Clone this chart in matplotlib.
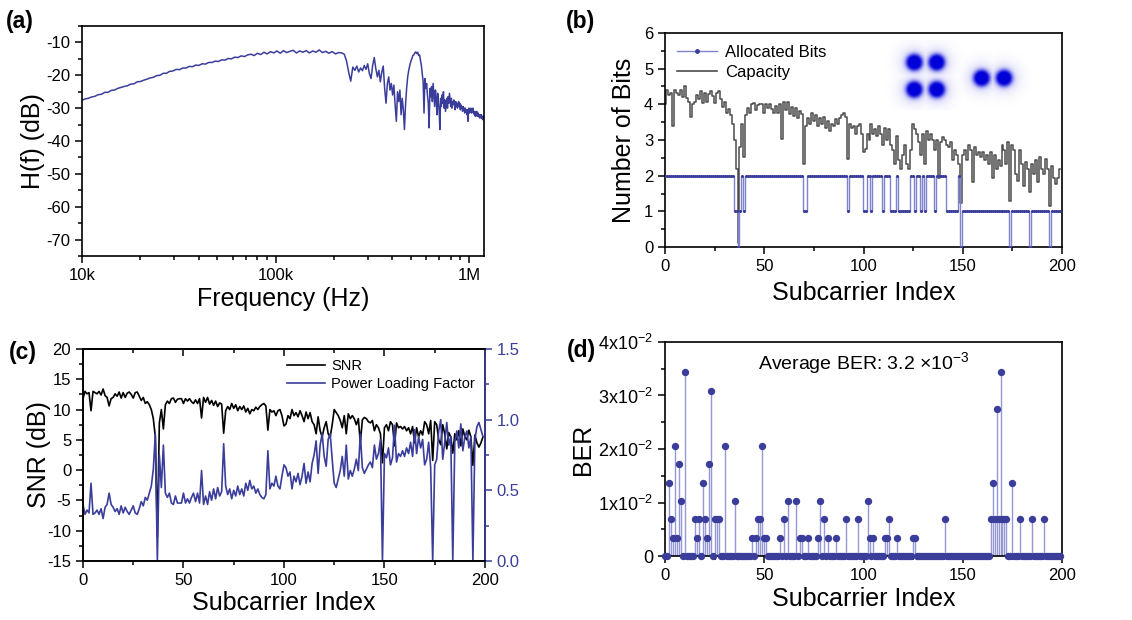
import numpy as np
import matplotlib
matplotlib.use("Agg")
import matplotlib.pyplot as plt
from matplotlib.lines import Line2D
from matplotlib.ticker import (MultipleLocator, FixedLocator, LogLocator,
                               NullFormatter, FormatStrFormatter)

plt.rcParams["font.family"] = ["Liberation Sans", "DejaVu Sans"]
plt.rcParams["mathtext.fontset"] = "custom"
plt.rcParams["mathtext.rm"] = "Liberation Sans"
plt.rcParams["mathtext.it"] = "Liberation Sans:italic"
plt.rcParams["axes.linewidth"] = 1.2
plt.rcParams["axes.unicode_minus"] = False

navy = "#3a3d9a"
light = "#7f83cc"
stem_c = "#9598d6"
gray = "#4c4c4c"

# ---------------- (a) channel response ----------------
freq_low = np.geomspace(1e4, 2.2e5, 80, endpoint=False)
h_low = [-27.6, -27.2, -27.0, -26.6, -26.4, -25.9, -25.8, -25.2, -25.2, -24.6,
         -24.5, -24.0, -23.7, -23.4, -23.2, -22.7, -22.6, -22.0, -21.9, -21.5,
         -21.2, -20.8, -20.6, -20.1, -20.0, -19.4, -19.4, -18.8, -18.7, -18.2,
         -18.3, -17.8, -17.8, -17.3, -17.4, -16.9, -17.0, -16.5, -16.6, -16.1,
         -16.1, -15.7, -15.8, -15.3, -15.4, -14.9, -15.0, -14.5, -14.6, -14.1,
         -14.3, -13.8, -13.6, -14.0, -13.3, -13.7, -13.0, -13.5, -12.8, -13.2,
         -12.6, -13.3, -12.5, -13.1, -12.7, -12.4, -13.2, -12.6, -13.0, -12.5,
         -13.2, -12.6, -13.0, -12.3, -13.1, -12.7, -13.3, -12.8, -13.5, -13.1]
freq_high = np.linspace(2.2e5, 1.19e6, 161)
h_high = [-13.2, -13.6, -15.5, -19.0, -21.8, -17.5, -18.5, -17.2, -19.0, -17.8,
          -18.6, -17.0, -18.2, -16.5, -19.5, -21.0, -17.0, -14.6, -18.0, -20.5,
          -18.5, -22.0, -19.0, -17.2, -24.0, -28.5, -22.5, -20.5, -24.5, -22.5,
          -26.0, -23.0, -29.0, -34.0, -25.0, -28.0, -24.5, -32.0, -27.0, -30.5,
          -36.5, -29.0, -24.0, -20.5, -18.5, -17.0, -15.8, -15.0, -14.0, -13.8,
          -13.2, -12.9, -13.4, -13.0, -14.0, -13.8, -15.5, -17.0, -19.5, -22.0,
          -31.5, -21.0, -24.0, -22.5, -26.0, -28.5, -36.0, -24.0, -26.5, -23.5,
          -28.0, -22.5, -26.0, -29.5, -24.5, -27.0, -32.0, -25.5, -28.0, -31.0,
          -36.5, -27.0, -29.5, -26.0, -28.5, -25.0, -30.0, -27.5, -31.0, -29.0,
          -27.0, -30.0, -26.5, -28.5, -25.5, -27.5, -29.5, -27.0, -30.0, -28.0,
          -29.0, -27.5, -28.5, -30.5, -28.0, -29.5, -28.5, -30.0, -29.0, -28.0,
          -29.5, -28.5, -30.5, -29.0, -30.0, -29.5, -31.0, -29.5, -30.5, -30.0,
          -31.5, -30.0, -31.0, -30.5, -32.0, -30.5, -34.0, -31.0, -30.0, -31.5,
          -30.5, -31.0, -30.0, -31.5, -30.5, -31.0, -30.0, -31.5, -31.0, -32.0,
          -31.0, -32.5, -31.5, -32.0, -31.0, -32.5, -32.0, -31.5, -32.5, -32.0,
          -33.0, -32.0, -32.5, -33.0, -32.0, -33.0, -32.5, -33.5, -32.5, -33.0,
          -32.5]

# ---------------- subcarrier data (b, c, d) ----------------
subcarrier = np.arange(200)

snr_db = [11.8, 13.0, 12.6, 12.8, 9.8, 13.0, 12.8, 12.6, 13.0, 12.4,
          13.4, 12.3, 12.0, 10.6, 11.8, 12.0, 12.6, 12.2, 12.9, 11.9,
          12.8, 12.0, 12.7, 12.9, 12.5, 11.9, 12.8, 12.9, 12.2, 11.5,
          12.0, 11.0, 11.3, 10.8, 10.0, 8.5, 5.5, -11.0, 7.8, 10.0,
          6.8, 10.8, 11.4, 11.0, 11.8, 11.9, 11.2, 11.7, 11.8, 11.8,
          11.0, 11.8, 11.4, 11.8, 11.3, 11.0, 11.6, 11.0, 11.8, 8.6,
          12.0, 11.2, 12.0, 10.9, 11.5, 10.7, 11.4, 10.5, 11.1, 10.9,
          6.1, 9.8, 10.5, 10.0, 11.0, 10.2, 10.8, 9.8, 10.5, 10.0,
          10.6, 9.6, 10.2, 9.3, 10.0, 9.8, 10.4, 10.0, 10.5, 10.8,
          11.0, 10.6, 6.6, 10.0, 9.6, 9.8, 9.0, 9.8, 10.0, 9.0,
          7.3, 7.6, 9.0, 8.5, 10.0, 9.0, 9.5, 8.8, 9.8, 9.0,
          8.0, 9.6, 8.5, 9.5, 8.0, 7.5, 6.0, 8.8, 6.5, 5.5,
          7.0, 8.0, 6.0, 5.5, 7.5, 10.0, 9.5, 9.0, 8.2, 7.0,
          9.0, 6.0, 9.3, 8.5, 9.0, 8.5, 7.5, 8.5, 4.5, 8.3,
          8.7, 8.5, 8.0, 7.8, 8.2, 6.5, 7.5, 7.0, 6.0, 1.2,
          7.0, 7.5, 6.5, 8.0, 7.5, 4.0, 7.8, 7.0, 7.2, 6.8,
          7.2, 6.5, 7.0, 6.0, 7.2, 4.5, 7.0, 5.5, 6.5, 5.8,
          8.0, 7.5, 6.0, 8.2, 1.6, 8.0, 7.5, 5.0, 4.2, 7.5,
          6.0, 3.5, 6.2, 5.5, 2.8, 6.0, 5.0, 6.5, 4.0, 6.8,
          5.5, 5.0, 6.6, 5.5, 0.8, 5.8, 4.5, 3.8, 4.5, 5.5]

capacity = [4.01, 4.39, 4.26, 4.33, 3.40, 4.39, 4.33, 4.26, 4.39, 4.20,
            4.52, 4.17, 4.07, 3.64, 4.01, 4.07, 4.26, 4.14, 4.36, 4.04,
            4.33, 4.07, 4.30, 4.36, 4.23, 4.04, 4.33, 4.36, 4.14, 3.92,
            4.07, 3.77, 3.86, 3.70, 3.46, 3.01, 2.19, 0.11, 2.81, 3.46,
            2.53, 3.70, 3.89, 3.77, 4.01, 4.04, 3.83, 3.98, 4.01, 4.01,
            3.77, 4.01, 3.89, 4.01, 3.86, 3.77, 3.95, 3.77, 4.01, 3.04,
            4.07, 3.83, 4.07, 3.73, 3.92, 3.67, 3.89, 3.61, 3.80, 3.73,
            2.34, 3.40, 3.61, 3.46, 3.77, 3.52, 3.70, 3.40, 3.61, 3.46,
            3.64, 3.34, 3.52, 3.25, 3.46, 3.40, 3.58, 3.46, 3.61, 3.70,
            3.77, 3.64, 2.48, 3.46, 3.34, 3.40, 3.16, 3.40, 3.46, 3.16,
            2.67, 2.76, 3.16, 3.01, 3.46, 3.16, 3.31, 3.10, 3.40, 3.16,
            2.87, 3.34, 3.01, 3.31, 2.87, 2.73, 2.32, 3.10, 2.45, 2.19,
            2.59, 2.87, 2.32, 2.19, 2.73, 3.46, 3.31, 3.16, 2.93, 2.59,
            3.16, 2.32, 3.25, 3.01, 3.16, 3.01, 2.73, 3.01, 1.93, 2.95,
            3.07, 3.01, 2.87, 2.81, 2.93, 2.45, 2.73, 2.59, 2.32, 1.22,
            2.59, 2.73, 2.45, 2.87, 2.73, 1.81, 2.81, 2.59, 2.65, 2.53,
            2.65, 2.45, 2.59, 2.32, 2.65, 1.93, 2.59, 2.19, 2.45, 2.27,
            2.87, 2.73, 2.32, 2.93, 1.29, 2.87, 2.73, 2.06, 1.86, 2.73,
            2.32, 1.70, 2.37, 2.19, 1.53, 2.32, 2.06, 2.45, 1.81, 2.53,
            2.19, 2.06, 2.48, 2.19, 1.14, 2.27, 1.93, 1.76, 1.93, 2.19]

bits_str = ("22222222222222222222222222222222222"
            "110121"
            "22222222222222222222222222222"
            "11"
            "22222222222222222222"
            "1"
            "2222222"
            "11" "22" "1" "22222" "1" "222" "111" "2" "111111"
            "22" "1" "22" "1" "2" "1" "2222" "1" "22222" "11111"
            "1" "2" "0"
            "111111111111111111111111" "0"
            "111111111" "0"
            "111111111" "0"
            "11111")
alloc_bits = [int(c) for c in bits_str]

power_factor = [0.40, 0.33, 0.36, 0.34, 0.55, 0.33, 0.34, 0.36, 0.33, 0.37,
                0.30, 0.38, 0.40, 0.48, 0.40, 0.38, 0.35, 0.37, 0.33, 0.39,
                0.34, 0.38, 0.35, 0.33, 0.36, 0.39, 0.34, 0.33, 0.37, 0.42,
                0.39, 0.45, 0.43, 0.48, 0.53, 0.65, 0.90, 0.00, 0.75, 0.52,
                0.82, 0.48, 0.45, 0.48, 0.41, 0.40, 0.46, 0.41, 0.41, 0.41,
                0.48, 0.41, 0.44, 0.41, 0.45, 0.48, 0.42, 0.48, 0.41, 0.64,
                0.40, 0.46, 0.40, 0.49, 0.43, 0.51, 0.44, 0.52, 0.46, 0.49,
                0.83, 0.53, 0.47, 0.51, 0.44, 0.50, 0.46, 0.53, 0.47, 0.51,
                0.46, 0.55, 0.50, 0.57, 0.51, 0.53, 0.48, 0.51, 0.47, 0.45,
                0.44, 0.47, 0.78, 0.51, 0.55, 0.53, 0.60, 0.53, 0.51, 0.60,
                0.68, 0.66, 0.60, 0.63, 0.51, 0.60, 0.56, 0.62, 0.54, 0.60,
                0.69, 0.55, 0.63, 0.56, 0.69, 0.75, 0.85, 0.62, 0.82, 0.90,
                0.74, 0.67, 0.86, 0.90, 0.72, 0.55, 0.52, 0.58, 0.64, 0.74,
                0.60, 0.82, 0.58, 0.64, 0.60, 0.65, 0.72, 0.64, 0.90, 0.66,
                0.62, 0.65, 0.68, 0.70, 0.66, 0.82, 0.72, 0.76, 0.86, 0.00,
                0.76, 0.73, 0.80, 0.68, 0.73, 0.96, 0.70, 0.76, 0.74, 0.78,
                0.74, 0.80, 0.76, 0.84, 0.74, 0.93, 0.76, 0.88, 0.80, 0.86,
                0.68, 0.72, 0.84, 0.66, 0.00, 0.68, 0.72, 0.92, 1.00, 0.72,
                0.84, 0.98, 0.82, 0.88, 0.00, 0.84, 0.92, 0.80, 0.97, 0.78,
                0.88, 0.92, 0.80, 0.88, 0.00, 0.86, 0.95, 0.98, 0.93, 0.88]

# subcarriers with bit errors and their BER (all others are zero)
ber_idx = [2, 3, 4, 5, 6, 7, 8, 10, 15, 16, 17, 19, 20, 21, 22, 23, 25, 26, 27, 30,
           35, 44, 46, 47, 48, 49, 50, 51, 58, 60, 62, 66, 68, 69, 72, 77, 78, 80,
           82, 86, 91, 97, 102, 103, 105, 111, 112, 113, 117, 125, 126, 141,
           164, 165, 166, 167, 168, 169, 170, 171, 172, 175, 179, 185, 191]
ber_val = [0.0137, 0.0069, 0.0034, 0.0206, 0.0034, 0.0172, 0.0103, 0.0343, 0.0069, 0.0034,
           0.0069, 0.0137, 0.0069, 0.0034, 0.0172, 0.0309, 0.0069, 0.0069, 0.0069, 0.0206,
           0.0103, 0.0034, 0.0034, 0.0069, 0.0069, 0.0206, 0.0034, 0.0034, 0.0034, 0.0069,
           0.0103, 0.0103, 0.0034, 0.0034, 0.0034, 0.0034, 0.0103, 0.0069, 0.0034, 0.0034,
           0.0069, 0.0069, 0.0103, 0.0034, 0.0034, 0.0034, 0.0034, 0.0069, 0.0034, 0.0034,
           0.0034, 0.0069, 0.0069, 0.0137, 0.0069, 0.0274, 0.0069, 0.0343, 0.0069, 0.0069,
           0.0069, 0.0137, 0.0069, 0.0069, 0.0069]
ber = np.zeros(200)
ber[ber_idx] = ber_val

LABEL_FS = 18
TICK_FS = 12


def style(ax):
    ax.tick_params(which="both", direction="out", width=1.1, labelsize=TICK_FS)
    ax.tick_params(which="major", length=5)
    ax.tick_params(which="minor", length=3)


fig = plt.figure(figsize=(11.32, 6.2), dpi=100)

# (a)
ax = fig.add_axes([0.0724, 0.5871, 0.3551, 0.3710])
ax.plot(np.concatenate([freq_low, freq_high]), h_low + h_high, color=navy, lw=1.1)
ax.set_xscale("log")
ax.set_xlim(1e4, 1.19e6)
ax.set_ylim(-75, -5)
ax.xaxis.set_major_locator(FixedLocator([1e4, 1e5, 1e6]))
ax.set_xticklabels(["10k", "100k", "1M"])
ax.xaxis.set_minor_locator(LogLocator(base=10, subs=np.arange(2, 10)))
ax.xaxis.set_minor_formatter(NullFormatter())
ax.set_yticks([-70, -60, -50, -40, -30, -20, -10])
ax.yaxis.set_minor_locator(MultipleLocator(5))
style(ax)
ax.set_xlabel("Frequency (Hz)", fontsize=LABEL_FS, labelpad=3)
ax.set_ylabel("H(f) (dB)", fontsize=LABEL_FS, labelpad=1)

# (b)
ax = fig.add_axes([0.5875, 0.6016, 0.3507, 0.3452])
# constellation insets: QPSK (2x2) and BPSK (2 points)
cx = [125.7, 137.0, 125.7, 137.0, 159.7, 171.0]
cy = [5.18, 5.18, 4.42, 4.42, 4.74, 4.74]
gx = np.linspace(110, 188, 320)
gy = np.linspace(3.85, 5.8, 160)
GX, GY = np.meshgrid(gx, gy)
dens = np.zeros_like(GX)
for px, py in zip(cx, cy):
    r = np.hypot((GX - px) * 1.985, (GY - py) * 35.7)
    core = 1.0 / (1.0 + np.exp((r - 8.0) / 1.4))
    halo = 0.18 * np.exp(-(r / 15.0) ** 2)
    dens = np.maximum(dens, np.clip(core + halo, 0, 1))
img = np.zeros(GX.shape + (4,))
img[..., 2] = 0.85
img[..., 3] = dens
ax.imshow(img, extent=[gx[0], gx[-1], gy[0], gy[-1]], origin="lower",
          aspect="auto", interpolation="bilinear", zorder=1)
ax.step(subcarrier, capacity, where="mid", color=gray, lw=1.1, zorder=2)
ax.step(subcarrier, alloc_bits, where="mid", color=light, lw=1.0, zorder=3)
ax.plot(subcarrier, alloc_bits, "o", ms=2.2, color=navy, mec="none", zorder=4)
ax.set_xlim(0, 200)
ax.set_ylim(0, 6)
ax.xaxis.set_major_locator(MultipleLocator(50))
ax.xaxis.set_minor_locator(MultipleLocator(25))
ax.yaxis.set_major_locator(MultipleLocator(1))
ax.yaxis.set_minor_locator(MultipleLocator(0.5))
style(ax)
ax.set_xlabel("Subcarrier Index", fontsize=LABEL_FS, labelpad=5)
ax.set_ylabel("Number of Bits", fontsize=LABEL_FS, labelpad=6)
handles = [Line2D([], [], color=light, lw=1.0, marker="o", ms=2.5, mfc=navy, mec=navy),
           Line2D([], [], color=gray, lw=1.2)]
ax.legend(handles, ["Allocated Bits", "Capacity"], loc="upper left", frameon=False,
          fontsize=12, handlelength=2.4, borderaxespad=0.3, labelspacing=0.3,
          handletextpad=0.5, numpoints=1)

# (c)
ax = fig.add_axes([0.0733, 0.0952, 0.3551, 0.3419])
ax.plot(subcarrier, snr_db, color="black", lw=1.2)
ax.set_xlim(0, 200)
ax.set_ylim(-15, 20)
ax.xaxis.set_major_locator(MultipleLocator(50))
ax.xaxis.set_minor_locator(MultipleLocator(25))
ax.yaxis.set_major_locator(MultipleLocator(5))
ax.yaxis.set_minor_locator(MultipleLocator(2.5))
style(ax)
top = ax.secondary_xaxis("top")
top.xaxis.set_major_locator(MultipleLocator(50))
top.xaxis.set_minor_locator(MultipleLocator(25))
top.tick_params(which="both", direction="in", labeltop=False, width=1.1)
top.tick_params(which="major", length=5)
top.tick_params(which="minor", length=3)
ax.set_xlabel("Subcarrier Index", fontsize=LABEL_FS, labelpad=2)
ax.set_ylabel("SNR (dB)", fontsize=LABEL_FS, labelpad=-3)
ax2 = ax.twinx()
ax2.plot(subcarrier, power_factor, color=navy, lw=1.2)
ax2.set_ylim(0, 1.5)
ax2.yaxis.set_major_locator(MultipleLocator(0.5))
ax2.yaxis.set_minor_locator(MultipleLocator(0.25))
ax2.yaxis.set_major_formatter(FormatStrFormatter("%.1f"))
style(ax2)
ax2.tick_params(axis="y", which="both", colors=navy)
ax2.spines["right"].set_color(navy)
handles = [Line2D([], [], color="black", lw=1.2), Line2D([], [], color=navy, lw=1.2)]
ax2.legend(handles, ["SNR", "Power Loading Factor"], loc="upper right", frameon=False,
           fontsize=10.5, handlelength=2.6, borderaxespad=0.3, labelspacing=0.25,
           handletextpad=0.4)

# (d)
ax = fig.add_axes([0.5875, 0.1032, 0.3507, 0.3452])
ax.vlines(subcarrier, 0, ber, color=stem_c, lw=1.0)
ax.plot(subcarrier, ber, "o", ms=5.3, color=navy, mec="none", clip_on=False, zorder=3)
ax.set_xlim(0, 200)
ax.set_ylim(0, 0.04)
ax.xaxis.set_major_locator(MultipleLocator(50))
ax.xaxis.set_minor_locator(MultipleLocator(25))
ax.set_yticks([0, 0.01, 0.02, 0.03, 0.04])
ax.set_yticklabels(["0", r"$\mathrm{1x10^{-2}}$", r"$\mathrm{2x10^{-2}}$",
                    r"$\mathrm{3x10^{-2}}$", r"$\mathrm{4x10^{-2}}$"])
ax.yaxis.set_minor_locator(MultipleLocator(0.005))
style(ax)
ax.tick_params(axis="y", labelsize=13)
ax.set_xlabel("Subcarrier Index", fontsize=LABEL_FS, labelpad=3)
ax.set_ylabel("BER", fontsize=LABEL_FS, labelpad=2)
ax.text(0.5, 0.9, r"Average BER: 3.2 $\times$10$^{-3}$", transform=ax.transAxes,
        ha="center", va="center", fontsize=14)

for lab, x, y in [("(a)", 0.005, 0.966), ("(b)", 0.500, 0.966),
                  ("(c)", 0.008, 0.432), ("(d)", 0.501, 0.434)]:
    fig.text(x, y, lab, fontsize=16.5, fontweight="bold", ha="left", va="center")

fig.savefig("out.png", dpi=100)
